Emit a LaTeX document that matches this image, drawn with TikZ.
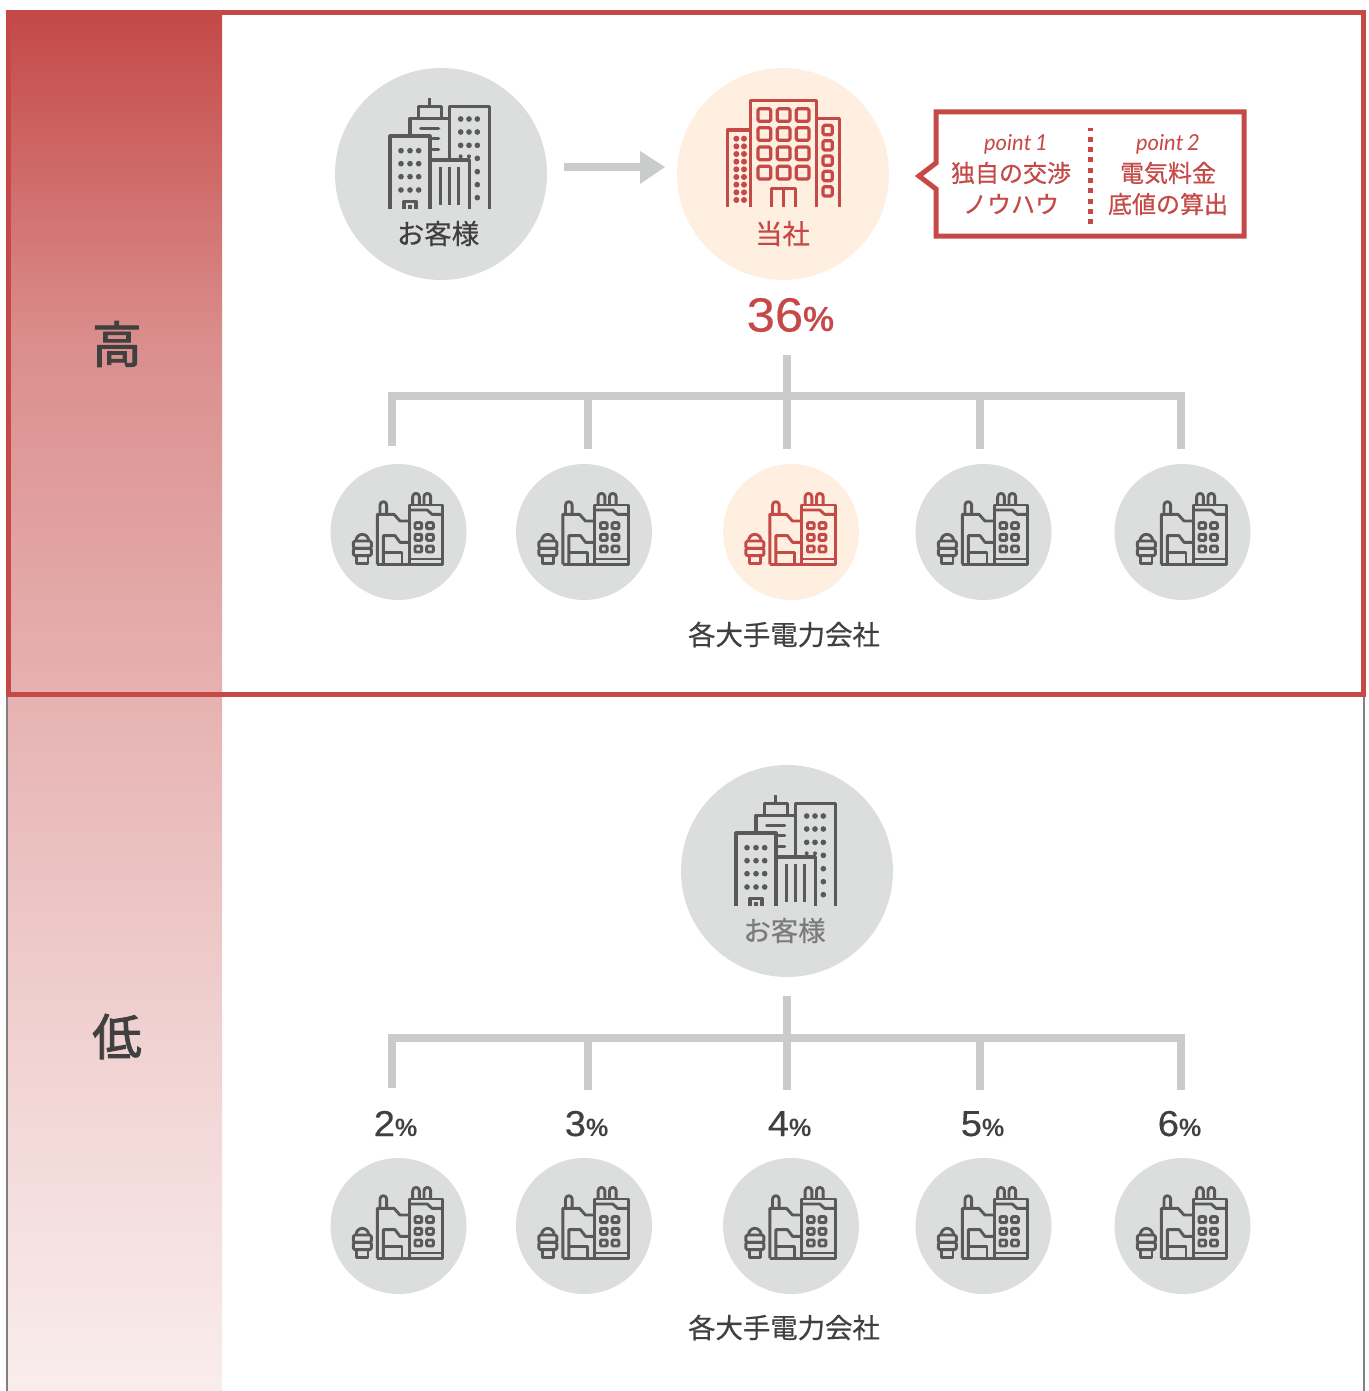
\documentclass[tikz,border=0pt]{standalone}
\usepackage{fontspec}
\setmainfont{Noto Sans CJK JP}[FakeBold=0.6]
\newfontfamily\headfont{Noto Sans CJK JP}[FakeBold=1.9]
\newfontfamily\numfont{Liberation Sans}[FakeStretch=1.06,FakeBold=0.35]
\newfontfamily\pctfont{Liberation Sans Bold}
\newfontfamily\ptfont{Lato}
\definecolor{brand}{HTML}{C44947}
\definecolor{ink}{HTML}{404040}
\definecolor{iconink}{HTML}{595959}
\definecolor{mutedink}{HTML}{7B7B7B}
\definecolor{disc}{HTML}{DCDEDD}
\definecolor{warm}{HTML}{FEEFE0}
\definecolor{branch}{HTML}{CACCCB}
\definecolor{edge}{HTML}{808080}
\pgfdeclareverticalshading{bandshade}{100bp}{
  color(0bp)=(brand!10!white);
  color(25bp)=(brand!10!white);
  color(37.8bp)=(brand!25!white);
  color(50bp)=(brand!42!white);
  color(63bp)=(brand!62!white);
  color(75bp)=(brand);
  color(100bp)=(brand)}
\tikzset{
  bigdisc/.style={circle,inner sep=0pt,minimum size=212pt,fill=#1},
  smalldisc/.style={circle,inner sep=0pt,minimum size=136pt,fill=#1},
  branchline/.style={draw=branch,line width=8pt},
  label27/.style={inner sep=0pt,font=\fontsize{27.4}{28}\selectfont,text=#1},
  label24/.style={inner sep=0pt,font=\fontsize{24}{26}\selectfont,text=brand},
  ptlabel/.style={inner sep=0pt,font=\ptfont\itshape\fontsize{22}{24}\selectfont,text=brand},
  pct/.style={inner sep=0pt,anchor=base,text=#1},
  heading/.style={inner sep=0pt,text=ink,font=\headfont\fontsize{49.5}{53}\selectfont},
  icon/.style={x=.3333pt,y=-.3333pt,color=#1},
  pics/city/.style={code={
    \begin{scope}[shift={(-333,-342)},line width=3.2pt,line join=round]
      \draw (180,448)--(180,228)--(300,228)--(300,448);
      \draw (240,228)--(240,175)--(358,175);
      \draw (265,175)--(265,140)--(335,140)--(335,175);
      \draw (298,140)--(298,115);
      \draw (358,300)--(358,140)--(478,140)--(478,448);
      \draw (300,300)--(418,300)--(418,448);
      \draw (332,320)--(332,436) (358,320)--(358,436) (385,320)--(385,436);
      \draw[line cap=round] (272,205)--(326,205) (308,236)--(326,236) (308,268)--(326,268);
      \foreach \px in {213,240,266} \foreach \py in {272,311,350,390} \fill (\px,\py) circle[radius=8.5];
      \foreach \px in {392,417,442} \foreach \py in {177,216,256} \fill (\px,\py) circle[radius=8.5];
      \foreach \py in {295,335,374,413} \fill (442,\py) circle[radius=8.5];
      \fill (392,289) circle[radius=6] (417,289) circle[radius=6];
      \draw (222,448)--(222,424)--(258,424)--(258,448);
      \draw (240,436)--(240,448);
    \end{scope}}},
  pics/office/.style={code={
    \begin{scope}[shift={(-339,-342)},line width=3.2pt,line join=round]
      \draw (242,440)--(242,122)--(440,122)--(440,440);
      \draw (442,175)--(508,175)--(508,440);
      \draw (242,210)--(172,210)--(172,440);
      \draw (304,440)--(304,386)--(376,386)--(376,440) (340,386)--(340,440);
      \foreach \px in {283,341,398} \foreach \py in {165,222,280,338}
        \draw[rounded corners=1.5pt] (\px-19,\py-19) rectangle (\px+19,\py+19);
      \foreach \py in {210,256,302,348,394}
        \draw[rounded corners=1.5pt] (473-14,\py-14) rectangle (473+14,\py+14);
      \foreach \px in {199,222} \foreach \py in {236,259,282,305,328,351,374,397,420}
        \fill (\px,\py) circle[radius=9];
    \end{scope}}},
  pics/factory/.style={code={
    \begin{scope}[shift={(-235.5,-231)},line width=2.9pt,line join=round]
      \draw (172,328)--(368,328)--(368,150)--(268,150)--(268,328);
      \draw (172,328)--(172,178)--(222,178)--(240,198)--(268,198);
      \draw (270,165)--(322,165)--(336,178)--(366,178);
      \draw (270,312)--(366,312);
      \draw (190,328)--(190,242)--(225,242)--(240,262)--(268,262);
      \draw (190,292)--(246,292)--(246,328);
      \draw (180,176)--(180,150) arc[start angle=180,end angle=360,radius=10]--(200,176);
      \draw (278,150)--(278,125) arc[start angle=180,end angle=360,radius=10]--(298,150);
      \draw (312,150)--(312,125) arc[start angle=180,end angle=360,radius=10]--(332,150);
      \foreach \px in {295,330} \foreach \py in {212,247,282}
        \draw[rounded corners=1pt] (\px-10,\py-9) rectangle (\px+10,\py+9);
      \draw (108,258) arc[start angle=180,end angle=360,x radius=19,y radius=20];
      \draw[rounded corners=1.5pt] (100,258) rectangle (154,280);
      \draw[rounded corners=1.5pt] (100,280) rectangle (154,302);
      \draw (110,302)--(110,326)--(144,326)--(144,302);
    \end{scope}}}
}
\begin{document}
\begin{tikzpicture}[x=1pt,y=-1pt]
\useasboundingbox (0,0) rectangle (1368,1391);
% band and frames
\shade[shading=bandshade] (8,13) rectangle (222,1391);
\draw[edge,line width=2.5pt] (7,695)--(7,1391);
\draw[edge,line width=2.5pt] (1364,695)--(1364,1391);
\draw[brand,line width=5pt] (8.5,13) rectangle (1363,694.5);
\node[heading] (high) at (117,344) {高};
\node[heading] (low) at (117,1036.5) {低};
% upper section
\node[bigdisc=disc] (cust) at (441,174) {};
\pic[icon=iconink] at (cust.center) {city};
\node[label27=ink] (custlabel) at (438,233.5) {お客様};
\node[bigdisc=warm] (us) at (783,174) {};
\pic[icon=brand] at (us.center) {office};
\node[label27=brand] (uslabel) at (782.5,233.5) {当社};
\coordinate (arrowstart) at (564,167);
\coordinate (arrowneck) at (641,167);
\coordinate (arrowtip) at (665,167);
\draw[branch,line width=8pt] (arrowstart)--(arrowneck);
\fill[branch] (640,151)--(arrowtip)--(640,184)--cycle;
% callout
\draw[brand,line width=5pt,miter limit=10] (936,112)--(1244,112)--(1244,236)--(936,236)--(936,189)--(919,176)--(936,163)--cycle;
\coordinate (sepA) at (1090,128);
\coordinate (sepB) at (1090,224.5);
\draw[brand,line width=5pt,dash pattern=on 5pt off 5.3pt,dash phase=1.5pt] (sepA)--(sepB);
\node[ptlabel] (p1) at (1016,144) {point\,1};
\node[label24] (p1a) at (1011,173) {独自の交渉};
\node[label24] (p1b) at (1011,204) {ノウハウ};
\node[ptlabel] (p2) at (1168,144) {point\,2};
\node[label24] (p2a) at (1168,173) {電気料金};
\node[label24] (p2b) at (1168,204) {底値の算出};
\node[pct=brand] (pctbig) at (790.5,331.5) {\numfont\fontsize{48}{48}\selectfont 36\pctfont\fontsize{35}{35}\selectfont\%};
% upper tree
\coordinate (ta) at (786.5,355);
\coordinate (ha) at (786.5,396);
\coordinate (ea) at (786.5,449);
\coordinate (la) at (391.5,396);
\coordinate (ra) at (1181,396);
\coordinate (d1a) at (391.5,446);
\coordinate (d5a) at (1181,449);
\draw[branchline] (d1a)--(la)--(ra)--(d5a);
\draw[branchline] (ta)--(ea);
\draw[branchline] (587.5,396)--(587.5,449);
\draw[branchline] (980,396)--(980,449);
\foreach \nm/\cx/\fc/\ic in {a/398.5/disc/iconink,b/584/disc/iconink,c/791/warm/brand,d/983.5/disc/iconink,e/1182.5/disc/iconink}{
  \node[smalldisc=\fc] (u\nm) at (\cx,532) {};
  \pic[icon=\ic] at (u\nm.center) {factory};
}
\node[label27=ink] (utilA) at (784,634.5) {各大手電力会社};
% lower section
\node[bigdisc=disc] (cust2) at (787,871) {};
\pic[icon=iconink] at (cust2.center) {city};
\node[label27=mutedink] (cust2label) at (784.5,930.5) {お客様};
\coordinate (tb) at (786.5,996);
\coordinate (eb) at (786.5,1090);
\coordinate (lb) at (391.5,1037.5);
\coordinate (rb) at (1181,1037.5);
\coordinate (d1b) at (391.5,1088);
\coordinate (d5b) at (1181,1090);
\draw[branchline] (d1b)--(lb)--(rb)--(d5b);
\draw[branchline] (tb)--(eb);
\draw[branchline] (587.5,1037.5)--(587.5,1090);
\draw[branchline] (980,1037.5)--(980,1090);
\foreach \nm/\cx/\pv/\lx in {a/398.5/2/395.5,b/584/3/586.5,c/791/4/789.5,d/983.5/5/982.5,e/1182.5/6/1179.5}{
  \node[smalldisc=disc] (v\nm) at (\cx,1226) {};
  \pic[icon=iconink] at (v\nm.center) {factory};
  \node[pct=ink] (pct\nm) at (\lx,1136) {\numfont\fontsize{36}{36}\selectfont \pv\pctfont\fontsize{25}{25}\selectfont\%};
}
\node[label27=ink] (utilB) at (784,1327.5) {各大手電力会社};
\end{tikzpicture}
\end{document}
